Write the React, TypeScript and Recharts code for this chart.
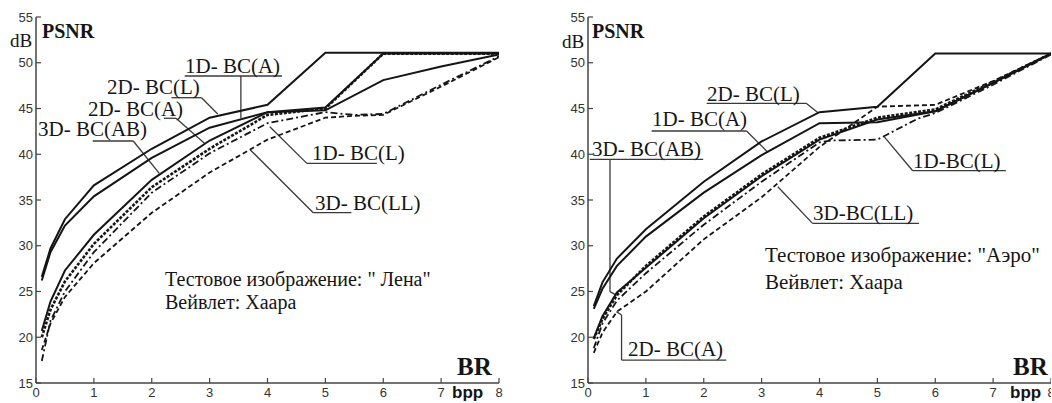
import React from 'react';
import { LineChart, Line, XAxis, YAxis, ReferenceLine } from 'recharts';

const xTicks = [0, 1, 2, 3, 4, 5, 6, 7, 8];
const yTicks = [15, 20, 25, 30, 35, 40, 45, 50, 55];

// Тестовое изображение "Лена"
const lenaBpp = [0.1, 0.25, 0.5, 1, 2, 3, 4, 5, 5.5, 6, 7, 8];
const lena2DL = [26.6, 29.7, 32.9, 36.6, 40.6, 44.0, 45.4, 51.1, null, 51.1, 51.1, 51.1];
const lena1DA = [26.2, 29.3, 32.2, 35.4, 39.6, 42.9, 44.6, 44.8, null, 48.1, 49.6, 50.9];
const lena2DA = [20.7, 23.9, 27.3, 31.2, 37.2, 41.5, 44.6, 45.1, null, 51.0, 51.0, 51.0];
const lena3DAB = [20.0, 23.0, 26.1, 30.2, 36.4, 40.6, 44.3, 45.0, null, 51.0, 51.0, 51.0];
const lena1DL = [17.4, 21.8, 25.0, 29.3, 35.8, 40.1, 43.4, 44.6, 44.3, 44.4, 47.6, 50.7];
const lena3DLL = [18.6, 21.5, 24.4, 28.1, 33.6, 38.0, 41.6, 44.0, 44.2, 44.3, 47.4, 50.6];

// Тестовое изображение "Аэро"
const aeroBpp = [0.1, 0.25, 0.5, 1, 2, 3, 4, 4.2, 5, 5.7, 6, 7, 8];
const aero2DL = [23.4, 26.0, 28.6, 31.8, 37.0, 41.4, 44.6, null, 45.2, null, 51.0, 51.0, 51.0];
const aero1DA = [23.1, 25.3, 27.8, 31.0, 35.8, 39.9, 43.4, null, 43.5, null, 44.7, 47.8, 51.0];
const aero3DAB = [19.8, 22.0, 24.6, 27.8, 33.2, 37.8, 41.8, null, 44.0, null, 44.9, 47.9, 51.0];
const aero2DA = [19.9, 22.3, 24.9, 27.6, 33.0, 37.6, 41.6, null, 43.8, null, 44.7, 47.8, 51.0];
const aero1DL = [18.8, 21.5, 24.0, 27.0, 32.3, 37.0, 41.3, 41.5, 41.6, 43.9, 44.5, 47.6, 50.9];
const aero3DLL = [18.3, 20.5, 22.8, 25.0, 30.7, 35.3, 40.8, null, 45.2, null, 45.4, 48.0, 51.0];

const serif = 'Liberation Serif';
const sans = 'Liberation Sans';
const ink = '#151515';

const seriesStyle = [
  { key: 's2DL', dash: undefined, width: 2 },
  { key: 's1DA', dash: undefined, width: 2 },
  { key: 's2DA', dash: undefined, width: 2 },
  { key: 's3DAB', dash: '3 1.5', width: 2.6 },
  { key: 's1DL', dash: '7 3 2 3', width: 1.8 },
  { key: 's3DLL', dash: '5 3', width: 1.8 },
];

const lenaRows = lenaBpp.map((bpp, i) => ({
  bpp, s2DL: lena2DL[i], s1DA: lena1DA[i], s2DA: lena2DA[i],
  s3DAB: lena3DAB[i], s1DL: lena1DL[i], s3DLL: lena3DLL[i],
}));
const aeroRows = aeroBpp.map((bpp, i) => ({
  bpp, s2DL: aero2DL[i], s1DA: aero1DA[i], s2DA: aero2DA[i],
  s3DAB: aero3DAB[i], s1DL: aero1DL[i], s3DLL: aero3DLL[i],
}));

// underline + leader polylines, in data units (bpp, dB)
const lenaLeaders = [
  [[2.57, 48.55], [4.25, 48.55]],
  [[3.54, 48.55], [3.54, 43.96]],
  [[2.34, 46.18], [2.86, 46.18], [3.14, 44.4]],
  [[2.21, 43.93], [2.42, 43.93], [2.91, 41.2]],
  [[0.98, 41.45], [1.68, 41.45], [2.13, 37.9]],
  [[5.89, 39.0], [4.68, 39.0], [4.04, 43.0]],
  [[5.45, 33.61], [4.79, 33.61], [3.7, 40.5]],
];
const aeroLeaders = [
  [[2.05, 45.57], [3.77, 45.57], [3.98, 44.5]],
  [[1.1, 42.54], [2.74, 42.54], [3.11, 40.2]],
  [[1.99, 39.45], [0.03, 39.45]],
  [[0.38, 39.45], [0.38, 24.98], [0.49, 24.6]],
  [[2.39, 17.51], [0.58, 17.51], [0.58, 22.43], [0.49, 22.8]],
  [[7.22, 38.2], [5.61, 38.2], [5.12, 41.9]],
  [[5.72, 32.45], [3.88, 32.45], [3.28, 36.45]],
];

type Pt = number[];

function Panel({ rows, leaders, left, width }: { rows: any[]; leaders: Pt[][]; left: number; width: number }) {
  const axisLine = { stroke: '#444', strokeWidth: 1.5 };
  const tickLine = { stroke: '#444', strokeWidth: 1.2 };
  const tick = { fontSize: 13, fill: '#333', fontFamily: sans };
  return (
    <div style={{ position: 'absolute', left, top: 0 }}>
      <LineChart width={width} height={403} data={rows} margin={{ top: 17, right: left === 0 ? 21 : 0, bottom: 0, left: 6 }}>
        <XAxis xAxisId="b" type="number" dataKey="bpp" domain={[0, 8]} ticks={xTicks} interval={0} height={20}
          tickSize={-5} tickMargin={10} axisLine={axisLine} tickLine={tickLine} tick={tick} allowDataOverflow />
        <XAxis xAxisId="t" orientation="top" type="number" domain={[0, 8]} ticks={xTicks} interval={0} height={0}
          tickSize={-5} axisLine={axisLine} tickLine={tickLine} tick={false} allowDataOverflow />
        <YAxis yAxisId="l" type="number" domain={[15, 55]} ticks={yTicks} interval={0} width={30}
          tickSize={-5} tickMargin={8} axisLine={axisLine} tickLine={tickLine} tick={tick} allowDataOverflow />
        <YAxis yAxisId="r" orientation="right" type="number" domain={[15, 55]} ticks={yTicks} interval={0} width={0}
          tickSize={-5} axisLine={axisLine} tickLine={tickLine} tick={false} allowDataOverflow />
        {leaders.flatMap((poly, i) =>
          poly.slice(1).map((p, j) => (
            <ReferenceLine key={`${i}-${j}`} xAxisId="b" yAxisId="l" ifOverflow="visible"
              segment={[{ x: poly[j][0], y: poly[j][1] }, { x: p[0], y: p[1] }]}
              stroke="#3a3a3a" strokeWidth={1.3} />
          ))
        )}
        {seriesStyle.map(s => (
          <Line key={s.key} xAxisId="b" yAxisId="l" type="linear" dataKey={s.key} stroke={ink}
            strokeWidth={s.width} strokeDasharray={s.dash} dot={false} connectNulls isAnimationActive={false} />
        ))}
      </LineChart>
    </div>
  );
}

function T({ x, y, size, bold, family = serif, children }: { x: number; y: number; size: number; bold?: boolean; family?: string; children: React.ReactNode }) {
  return (
    <text x={x} y={y} fontFamily={family} fontSize={size} fontWeight={bold ? 700 : 400} fill={ink}>{children}</text>
  );
}

export default function App() {
  return (
    <div style={{ position: 'absolute', left: 0, top: 0, width: 1052, height: 403, background: '#fff', overflow: 'hidden' }}>
      <Panel rows={lenaRows} leaders={lenaLeaders} left={0} width={520} />
      <Panel rows={aeroRows} leaders={aeroLeaders} left={552} width={499} />
      <svg width={1052} height={403} style={{ position: 'absolute', left: 0, top: 0, pointerEvents: 'none' }}>
        {/* Лена */}
        <T x={42} y={38} size={20} bold>PSNR</T>
        <T x={10} y={47} size={19}>dB</T>
        <T x={457} y={375} size={25} bold>BR</T>
        <T x={452} y={398} size={17} bold family={sans}>bpp</T>
        <T x={185} y={73} size={21}>1D- BC(A)</T>
        <T x={107} y={94} size={21}>2D- BC(L)</T>
        <T x={88} y={115.5} size={21}>2D- BC(A)</T>
        <T x={38} y={136} size={21}>3D- BC(AB)</T>
        <T x={312} y={160} size={21}>1D- BC(L)</T>
        <T x={315} y={210} size={21}>3D- BC(LL)</T>
        <T x={165} y={286} size={20}>Тестовое изображение: " Лена"</T>
        <T x={165} y={309} size={20}>Вейвлет: Хаара</T>
        {/* Аэро */}
        <T x={592} y={38} size={20} bold>PSNR</T>
        <T x={562} y={48} size={19}>dB</T>
        <T x={1013} y={375} size={25} bold>BR</T>
        <T x={1010} y={398} size={17} bold family={sans}>bpp</T>
        <T x={707} y={101} size={21}>2D- BC(L)</T>
        <T x={652} y={126} size={21}>1D- BC(A)</T>
        <T x={592} y={156} size={21}>3D- BC(AB)</T>
        <T x={628} y={356} size={21}>2D- BC(A)</T>
        <T x={913} y={168} size={21}>1D-BC(L)</T>
        <T x={813} y={220} size={21}>3D-BC(LL)</T>
        <T x={765} y={262} size={21}>Тестовое изображение: "Аэро"</T>
        <T x={765} y={289} size={21}>Вейвлет: Хаара</T>
      </svg>
    </div>
  );
}
